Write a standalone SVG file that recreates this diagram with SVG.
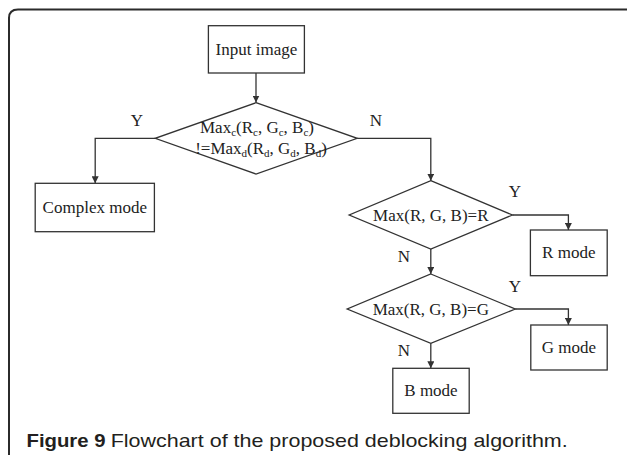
<svg xmlns="http://www.w3.org/2000/svg" width="627" height="455" viewBox="0 0 627 455">
<defs>
<style>
.box{fill:#fff;stroke:#333;stroke-width:1.3}
.ln{fill:none;stroke:#333;stroke-width:1.3}
.t{font-family:"Liberation Serif","Times New Roman",serif;font-size:17px;fill:#222;text-anchor:middle}
.sub{font-size:11px}
.cap{font-family:"Liberation Sans",Arial,sans-serif;font-size:18.5px;fill:#231f20}
</style>
<marker id="ah" markerWidth="8" markerHeight="7" refX="7" refY="3.5" orient="auto" markerUnits="userSpaceOnUse">
<path d="M0,0 L7,3.5 L0,7 Z" fill="#333"/>
</marker>
</defs>
<rect width="627" height="455" fill="#fff"/>
<path d="M9,455 V18 Q9,9.5 18,9.5 H627" fill="none" stroke="#2b2b2b" stroke-width="2"/>

<g id="connectors">
<path class="ln" d="M256,73 V102.5" marker-end="url(#ah)"/>
<path class="ln" d="M155.2,138.3 H95.2 V183.3" marker-end="url(#ah)"/>
<path class="ln" d="M357.2,138.3 H430.8 V180.7" marker-end="url(#ah)"/>
<path class="ln" d="M512.4,215 H568.4 V230" marker-end="url(#ah)"/>
<path class="ln" d="M430.8,249 V274" marker-end="url(#ah)"/>
<path class="ln" d="M515.2,309 H568.4 V325" marker-end="url(#ah)"/>
<path class="ln" d="M430.8,343.3 V368.3" marker-end="url(#ah)"/>
<text class="t" x="137" y="126">Y</text>
<text class="t" x="376" y="126">N</text>
<text class="t" x="515" y="196.7">Y</text>
<text class="t" x="404" y="261.7">N</text>
<text class="t" x="515" y="291.7">Y</text>
<text class="t" x="404" y="356">N</text>
</g>

<g id="input">
<rect class="box" x="208.4" y="25.7" width="96" height="47.3"/>
<text class="t" x="256.4" y="55">Input image</text>
</g>

<g id="decision1">
<polygon class="box" points="256,102.7 357.2,138.3 256,174 155.2,138.3"/>
<text class="t" x="257" y="133.3">Max<tspan class="sub" dy="3">c</tspan><tspan dy="-3">(R</tspan><tspan class="sub" dy="3">c</tspan><tspan dy="-3">, G</tspan><tspan class="sub" dy="3">c</tspan><tspan dy="-3">, B</tspan><tspan class="sub" dy="3">c</tspan><tspan dy="-3">)</tspan></text>
<text class="t" x="261" y="154">!=Max<tspan class="sub" dy="3">d</tspan><tspan dy="-3">(R</tspan><tspan class="sub" dy="3">d</tspan><tspan dy="-3">, G</tspan><tspan class="sub" dy="3">d</tspan><tspan dy="-3">, B</tspan><tspan class="sub" dy="3">d</tspan><tspan dy="-3">)</tspan></text>
</g>

<g id="complex">
<rect class="box" x="35.2" y="183.3" width="119.2" height="48.4"/>
<text class="t" x="94.8" y="212.7">Complex mode</text>
</g>

<g id="decision2">
<polygon class="box" points="430.8,180.7 512.4,215 430.8,249 349.2,215"/>
<text class="t" x="430.8" y="220.5">Max(R, G, B)=R</text>
</g>

<g id="rmode">
<rect class="box" x="530.4" y="230" width="76.8" height="45.7"/>
<text class="t" x="568.8" y="258">R mode</text>
</g>

<g id="decision3">
<polygon class="box" points="430.8,274 515.2,309 430.8,343.3 347.2,309"/>
<text class="t" x="430.8" y="314.5">Max(R, G, B)=G</text>
</g>

<g id="gmode">
<rect class="box" x="530.8" y="325" width="76.4" height="45"/>
<text class="t" x="569" y="352.7">G mode</text>
</g>

<g id="bmode">
<rect class="box" x="392.8" y="368.3" width="76.4" height="45"/>
<text class="t" x="431" y="396">B mode</text>
</g>

<g id="caption">
<text class="cap" x="26.5" y="446.5" font-weight="bold" textLength="79" lengthAdjust="spacingAndGlyphs">Figure 9</text>
<text class="cap" x="110.7" y="446.5" textLength="457" lengthAdjust="spacingAndGlyphs">Flowchart of the proposed deblocking algorithm.</text>
</g>
</svg>
